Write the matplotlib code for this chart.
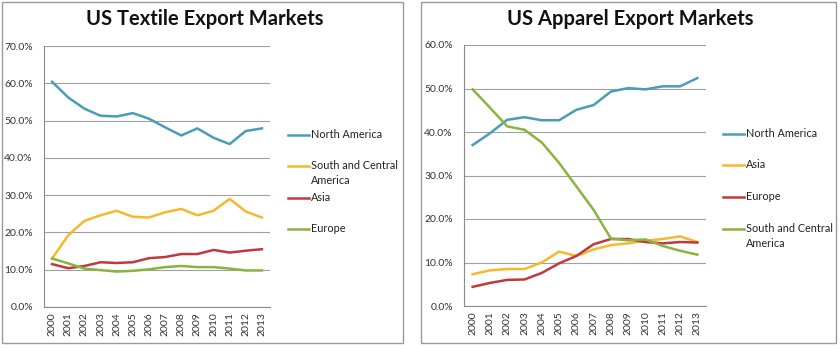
import matplotlib.pyplot as plt
from matplotlib.patches import Rectangle
from matplotlib.lines import Line2D
from matplotlib.ticker import FuncFormatter

plt.rcParams['font.family'] = ['Lato', 'DejaVu Sans']

years = [str(y) for y in range(2000, 2014)]

# textile export shares (%)
tex_north_america = [60.4, 56.2, 53.2, 51.3, 51.1, 52.0, 50.5, 48.2, 46.0, 47.9, 45.4, 43.7, 47.2, 47.9]
tex_south_central = [13.0, 19.2, 23.1, 24.6, 25.8, 24.2, 24.0, 25.4, 26.3, 24.6, 25.8, 29.0, 25.6, 24.0]
tex_asia = [11.5, 10.4, 11.0, 12.0, 11.8, 12.0, 13.1, 13.4, 14.2, 14.2, 15.3, 14.6, 15.1, 15.5]
tex_europe = [13.0, 11.7, 10.3, 9.9, 9.5, 9.7, 10.1, 10.7, 11.0, 10.7, 10.7, 10.3, 9.8, 9.8]

# apparel export shares (%)
app_north_america = [37.0, 39.7, 42.8, 43.4, 42.7, 42.7, 45.1, 46.2, 49.3, 50.1, 49.8, 50.5, 50.5, 52.4]
app_asia = [7.3, 8.2, 8.5, 8.5, 10.0, 12.5, 11.5, 13.0, 14.0, 14.4, 15.0, 15.4, 16.0, 14.7]
app_europe = [4.4, 5.3, 6.0, 6.1, 7.6, 9.8, 11.5, 14.2, 15.4, 15.4, 14.7, 14.4, 14.7, 14.6]
app_south_central = [49.8, 45.6, 41.3, 40.5, 37.6, 32.9, 27.5, 22.1, 15.5, 15.1, 15.3, 13.8, 12.7, 11.8]

TEAL = '#4A9DB5'
GOLD = '#F5B82E'
RED = '#C0393F'
GREEN = '#8AB33F'

W, H = 840, 349
fig = plt.figure(figsize=(W / 100, H / 100), dpi=100)


def fx(px):
    return px / W


def fy(py):
    return 1 - py / H


def panel(x0, x1, ax_box, ymax, title, series, legend_x, legend_y):
    # grey frame round the chart
    fig.patches.append(Rectangle((fx(x0), fy(343)), fx(x1) - fx(x0), fy(2) - fy(343),
                                 transform=fig.transFigure, fill=False,
                                 edgecolor='#9a9a9a', linewidth=1.0))
    l, t, r, b = ax_box
    ax = fig.add_axes([fx(l), fy(b), fx(r) - fx(l), fy(t) - fy(b)])
    x = range(len(years))
    for label, vals, color in series:
        ax.plot(x, vals, color=color, linewidth=1.8, solid_joinstyle='round')
    ax.set_xlim(-0.5, len(years) - 0.5)
    ax.set_ylim(0, ymax)
    ax.set_yticks(range(0, ymax + 1, 10))
    ax.yaxis.set_major_formatter(FuncFormatter(lambda v, p: '%.1f%%' % v))
    ax.set_xticks(list(x))
    ax.set_xticklabels(years, rotation=90)
    ax.grid(axis='y', color='#a0a0a0', linewidth=0.8)
    ax.set_axisbelow(True)
    for side in ['top', 'right']:
        ax.spines[side].set_visible(False)
    for side in ['left', 'bottom']:
        ax.spines[side].set_color('#8a8a8a')
        ax.spines[side].set_linewidth(0.8)
    ax.tick_params(axis='y', length=0, pad=8, labelsize=7.5, labelcolor='#333333')
    ax.tick_params(axis='x', length=0, pad=4, labelsize=7.5, labelcolor='#333333')
    fig.text(fx((x0 + x1) / 2 + 2), fy(19), title, ha='center', va='center',
             fontsize=14.5, fontweight='bold', color='#111111')

    # legend on the right of the plot area
    for (label, vals, color), ly in zip(series, legend_y):
        fig.add_artist(Line2D([fx(legend_x), fx(legend_x + 21)], [fy(ly), fy(ly)],
                              color=color, linewidth=1.8, transform=fig.transFigure))
        fig.text(fx(legend_x + 23), fy(ly - 6), label, ha='left', va='top',
                 fontsize=7.8, color='#222222', linespacing=1.4)
    return ax


panel(2, 403, (44, 46, 270, 307), 70, 'US Textile Export Markets',
      [('North America', tex_north_america, TEAL),
       ('South and Central\nAmerica', tex_south_central, GOLD),
       ('Asia', tex_asia, RED),
       ('Europe', tex_europe, GREEN)],
      288, [135, 166, 198, 229])

panel(421, 836, (464, 45, 706, 306), 60, 'US Apparel Export Markets',
      [('North America', app_north_america, TEAL),
       ('Asia', app_asia, GOLD),
       ('Europe', app_europe, RED),
       ('South and Central\nAmerica', app_south_central, GREEN)],
      723, [134, 165, 197, 229])

fig.savefig('out.png', dpi=100)
